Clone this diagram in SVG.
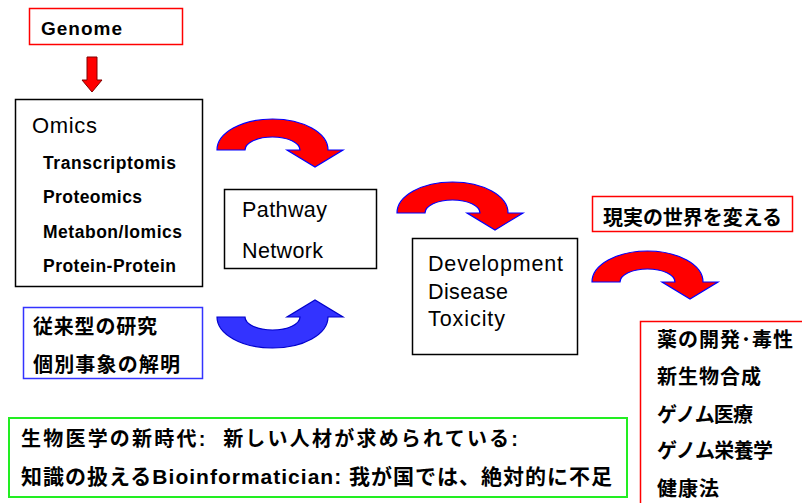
<svg xmlns="http://www.w3.org/2000/svg" width="802" height="503" viewBox="0 0 802 503">
  <defs>
    <style>
      .box { fill: #ffffff; stroke: #000000; stroke-width: 1.5; }
      .rbox { fill: #ffffff; stroke: #ff0000; stroke-width: 1.5; }
      .bbox { fill: #ffffff; stroke: #3333ff; stroke-width: 1.5; }
      .gbox { fill: #ffffff; stroke: #22ee22; stroke-width: 2; }
      .lat { font-family: "Liberation Sans", Arial, sans-serif; fill: #000000; }
      .b { font-weight: bold; }
      .jp { font-family: "Liberation Sans", "Noto Sans CJK JP", sans-serif; font-weight: bold; fill: #000000; font-size: 20px; white-space: pre; }
      .wide { font-size: 21px; }
      .curve-red { fill: #ff0000; stroke: #0000ff; stroke-width: 1.2; stroke-linejoin: miter; }
      .curve-blue { fill: #3333ff; stroke: #0000cc; stroke-width: 1.2; }
    </style>
    <!-- curved arrow, drawn with its left foot at the origin -->
    <path id="curve" d="M0 0 A55.5 31 0 0 1 111 0 L126 0 L98 17 L70 0 L83 0 A27.5 13 0 0 0 28 0 Z"/>
  </defs>

  <rect width="802" height="503" fill="#ffffff"/>

  <g id="connectors">
    <!-- Genome down to Omics -->
    <path d="M87 57 L97 57 L97 80 L102 80 L92 92 L82 80 L87 80 Z" fill="#ff0000" stroke="#800000" stroke-width="1"/>
    <use href="#curve" class="curve-red" transform="translate(217,150)"/>
    <use href="#curve" class="curve-red" transform="translate(397,213)"/>
    <use href="#curve" class="curve-red" transform="translate(592,282)"/>
    <use href="#curve" class="curve-blue" transform="translate(217,317) scale(1,-1)"/>
  </g>

  <g id="genome">
    <rect class="rbox" x="29.5" y="8.5" width="153" height="36"/>
    <text class="lat b" x="41" y="35" font-size="19" textLength="81">Genome</text>
  </g>

  <g id="omics">
    <rect class="box" x="15.5" y="99.5" width="187" height="187"/>
    <text class="lat" x="32" y="133" font-size="22" textLength="65">Omics</text>
    <text class="lat b" x="43" y="169" font-size="17.5" textLength="133">Transcriptomis</text>
    <text class="lat b" x="43" y="203" font-size="17.5" textLength="99">Proteomics</text>
    <text class="lat b" x="43" y="238" font-size="17.5" textLength="139">Metabon/lomics</text>
    <text class="lat b" x="43" y="272" font-size="17.5" textLength="133">Protein-Protein</text>
  </g>

  <g id="pathway">
    <rect class="box" x="224.5" y="189.5" width="152" height="79"/>
    <text class="lat" x="242" y="217" font-size="21.5" textLength="85">Pathway</text>
    <text class="lat" x="242" y="258" font-size="21.5" textLength="81">Network</text>
  </g>

  <g id="development">
    <rect class="box" x="412.5" y="238.5" width="165" height="116"/>
    <text class="lat" x="428" y="271" font-size="21.5" textLength="135">Development</text>
    <text class="lat" x="428" y="299" font-size="21.5" textLength="80">Disease</text>
    <text class="lat" x="428" y="326" font-size="21.5" textLength="77">Toxicity</text>
  </g>

  <g id="real-world">
    <rect class="rbox" x="592.5" y="196.5" width="200" height="35"/>
    <text class="jp" x="603" y="225" textLength="179">現実の世界を変える</text>
  </g>

  <g id="conventional">
    <rect class="bbox" x="23.5" y="307.5" width="179" height="71"/>
    <text class="jp" x="33" y="334" textLength="124">従来型の研究</text>
    <text class="jp" x="33" y="372" textLength="147">個別事象の解明</text>
  </g>

  <g id="applications">
    <rect class="rbox" x="640.5" y="321.5" width="200" height="200"/>
    <text class="jp" x="657" y="347" textLength="136">薬の開発･毒性</text>
    <text class="jp" x="657" y="384" textLength="104">新生物合成</text>
    <text class="jp" x="657" y="422" textLength="96">ゲノム医療</text>
    <text class="jp" x="657" y="458" textLength="116">ゲノム栄養学</text>
    <text class="jp" x="657" y="496" textLength="62">健康法</text>
  </g>

  <g id="new-era">
    <rect class="gbox" x="9" y="418" width="618" height="79"/>
    <text class="jp" x="21" y="446" textLength="497">生物医学の新時代:  新しい人材が求められている:</text>
    <text class="jp wide" x="21" y="484" textLength="591">知識の扱えるBioinformatician: 我が国では、絶対的に不足</text>
  </g>
</svg>
